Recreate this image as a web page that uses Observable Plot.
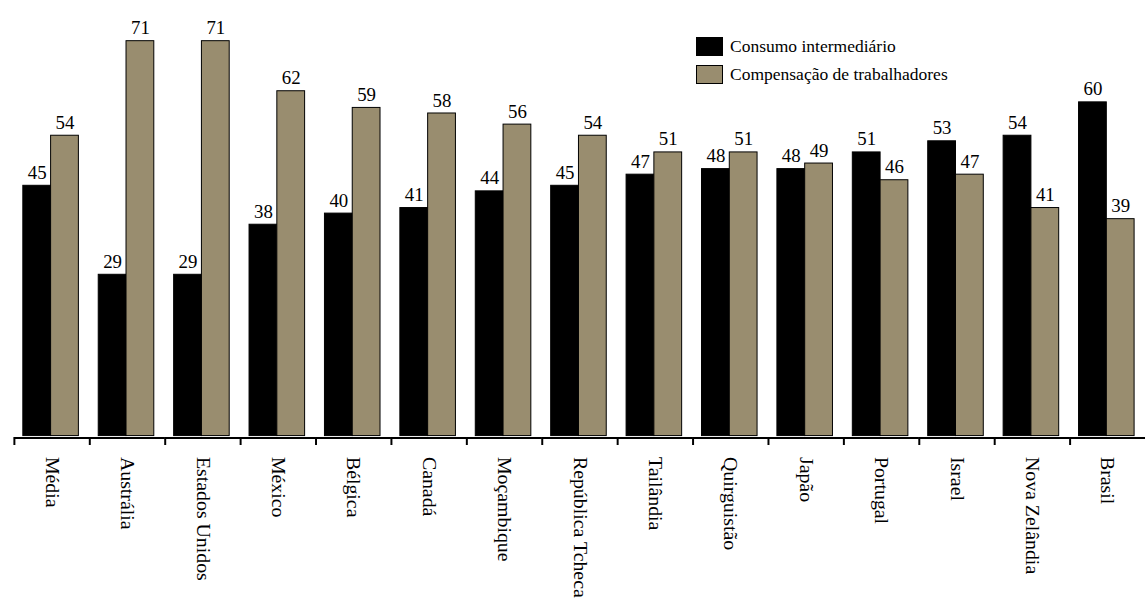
<!DOCTYPE html>
<html lang="pt">
<head>
<meta charset="utf-8">
<script src="https://cdn.jsdelivr.net/npm/d3@7"></script>
<script src="https://cdn.jsdelivr.net/npm/@observablehq/plot@0.6"></script>
<style>
  html, body { margin: 0; padding: 0; background: #fff; overflow: hidden; }
  #wrap { position: relative; width: 1147px; height: 610px; overflow: hidden; font-family: "Liberation Serif", Tinos, "Times New Roman", Times, "DejaVu Serif", serif; }
  #legend { position: absolute; left: 696px; top: 37px; font-size: 17.5px; color: #000; }
  #legend .row { display: flex; align-items: center; height: 19px; margin-bottom: 9px; }
  #legend .sw { width: 27px; height: 19px; box-sizing: border-box; border: 1px solid #000; margin-right: 7px; }
  #chart svg, #chart svg text { font-family: "Liberation Serif", Tinos, "Times New Roman", Times, "DejaVu Serif", serif !important; }
</style>
</head>
<body>
<div id="wrap">
  <div id="chart"></div>
  <div id="legend"></div>
</div>
<script>
// Países (eixo horizontal)
const countries = ["Média", "Austrália", "Estados Unidos", "México", "Bélgica", "Canadá", "Moçambique",
  "República Tcheca", "Tailândia", "Quirguistão", "Japão", "Portugal", "Israel", "Nova Zelândia", "Brasil"];

// Séries
const series = ["Consumo intermediário", "Compensação de trabalhadores"];
const seriesColors = ["#000000", "#998d6f"];

// Valores (%)
const consumo = [45, 29, 29, 38, 40, 41, 44, 45, 47, 48, 48, 51, 53, 54, 60];
const compensacao = [54, 71, 71, 62, 59, 58, 56, 54, 51, 51, 49, 46, 47, 41, 39];

const rows = countries.flatMap((c, i) => [
  {country: c, serie: series[0], value: consumo[i]},
  {country: c, serie: series[1], value: compensacao[i]}
]);

const chart = Plot.plot({
  width: 1156,
  height: 610,
  marginLeft: 11,
  marginRight: 0,
  marginTop: 0,
  marginBottom: 163,
  style: {background: "white", color: "black"},
  fx: {domain: countries, paddingInner: 0, paddingOuter: 0, label: null},
  x: {domain: series, paddingInner: 0, paddingOuter: 0.33, align: 0.47, axis: null},
  y: {domain: [0, 71], range: [439, 41], axis: null},
  color: {domain: series, range: seriesColors},
  marks: [
    Plot.barY(rows, {fx: "country", x: "serie", y: "value", fill: "serie", stroke: "black", strokeWidth: 1}),
    Plot.text(rows, {fx: "country", x: "serie", y: "value", text: "value", dy: -7,
      lineAnchor: "bottom", fontSize: 19, fill: "black"}),
    Plot.ruleY([0], {dy: 2, strokeWidth: 2, stroke: "black"}),
    Plot.frame({anchor: "left", insetTop: 441, strokeWidth: 2, stroke: "black"}),
    Plot.axisFx({anchor: "bottom", tickSize: 0, tickPadding: 13, tickRotate: 90, fontSize: 20, label: null})
  ]
});
document.getElementById("chart").appendChild(chart);

// Legenda
const legend = document.getElementById("legend");
series.forEach((s, i) => {
  const row = document.createElement("div");
  row.className = "row";
  const sw = document.createElement("span");
  sw.className = "sw";
  sw.style.background = seriesColors[i];
  const label = document.createElement("span");
  label.textContent = s;
  row.appendChild(sw);
  row.appendChild(label);
  legend.appendChild(row);
});
</script>
</body>
</html>
